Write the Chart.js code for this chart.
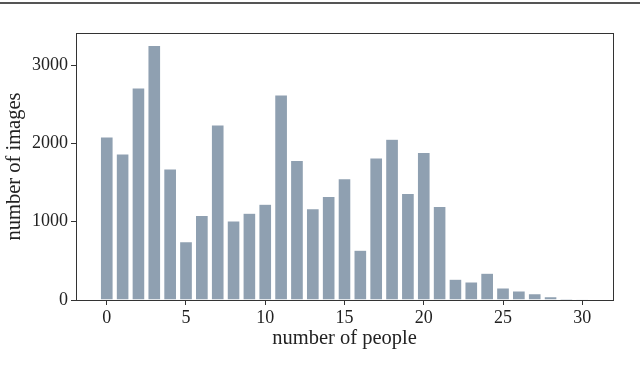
<!DOCTYPE html>
<html>
<head>
<meta charset="utf-8">
<script src="https://cdn.jsdelivr.net/npm/chart.js@4/dist/chart.umd.min.js"></script>
<style>
  html, body { margin: 0; padding: 0; background: #fff; }
  #wrap { position: relative; width: 640px; height: 374px; }
  #topline { position: absolute; left: 0; top: 2px; width: 640px; height: 2px; background: #555; }
  canvas { position: absolute; left: 0; top: 0; }
</style>
</head>
<body>
<div id="wrap">
  <canvas id="c" width="640" height="374"></canvas>
  <div id="topline"></div>
</div>
<script>
const people = [0,1,2,3,4,5,6,7,8,9,10,11,12,13,14,15,16,17,18,19,20,21,22,23,24,25,26,27,28,29,30];
const images = [2083,1865,2710,3252,1673,743,1080,2237,1011,1110,1225,2620,1784,1165,1323,1549,636,1814,2053,1361,1886,1195,265,230,341,154,115,81,43,17,10];
const xTicks = [0,5,10,15,20,25,30];
const yTicks = [0,1000,2000,3000];
const xTitle = 'number of people';
const yTitle = 'number of images';

const FONT = '"Liberation Serif", "DejaVu Serif", serif';

const framePlugin = {
  id: 'frame',
  afterDraw(chart) {
    const a = chart.chartArea, ctx = chart.ctx;
    ctx.save();
    ctx.strokeStyle = '#333';
    ctx.lineWidth = 1;
    ctx.strokeRect(Math.round(a.left) + 0.5, Math.round(a.top) + 0.5,
                   Math.round(a.right - a.left), Math.round(a.bottom - a.top));
    ctx.restore();
  }
};

new Chart(document.getElementById('c'), {
  type: 'bar',
  data: {
    datasets: [{
      data: people.map((p, i) => ({ x: p, y: images[i] })),
      backgroundColor: 'rgb(143,160,177)',
      borderColor: 'rgba(255,255,255,0.6)',
      borderWidth: 0.5,
      barPercentage: 0.8,
      categoryPercentage: 1.0
    }]
  },
  options: {
    responsive: false,
    animation: false,
    devicePixelRatio: 1,
    layout: { padding: { left: 0, top: 33, right: 27, bottom: 0 } },
    plugins: { legend: { display: false }, tooltip: { enabled: false } },
    scales: {
      x: {
        type: 'linear',
        offset: false,
        min: -1.94,
        max: 31.94,
        afterFit(s) { s.height = 74; },
        afterBuildTicks(s) { s.ticks = xTicks.map(v => ({ value: v })); },
        grid: { offset: false, drawOnChartArea: false, drawTicks: true, tickLength: 5, color: '#333' },
        border: { display: true, color: '#333' },
        ticks: { color: '#222', font: { family: FONT, size: 18 }, padding: 2, maxRotation: 0 },
        title: { display: true, text: xTitle, color: '#222', font: { family: FONT, size: 20.5 }, padding: { top: 0, bottom: 23 } }
      },
      y: {
        type: 'linear',
        min: 0,
        max: 3412,
        afterFit(s) { s.width = 76; },
        afterBuildTicks(s) { s.ticks = yTicks.map(v => ({ value: v })); },
        grid: { drawOnChartArea: false, drawTicks: true, tickLength: 5, color: '#333' },
        border: { display: true, color: '#333' },
        ticks: { color: '#222', font: { family: FONT, size: 18 }, padding: 3, callback: v => String(v) },
        title: { display: true, text: yTitle, color: '#222', font: { family: FONT, size: 20.5 }, padding: { top: 2, bottom: 0 } }
      }
    }
  },
  plugins: [framePlugin]
});
</script>
</body>
</html>
